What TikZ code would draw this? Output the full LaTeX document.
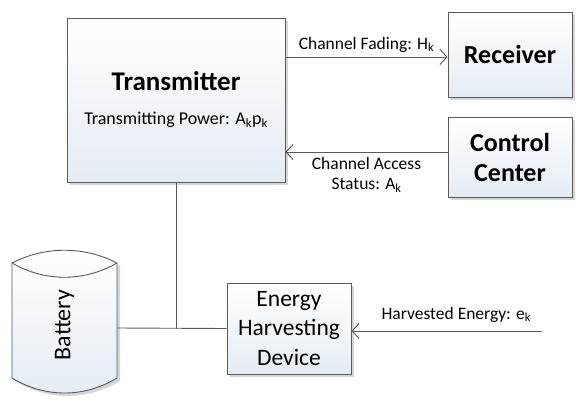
\documentclass[tikz,border=0pt]{standalone}
\usepackage{fontspec}
\setmainfont{Carlito}
\usetikzlibrary{arrows.meta,positioning,calc,shadows}

\definecolor{edgegray}{HTML}{5A5A5A}
\definecolor{boxblue}{HTML}{E4ECF3}
\definecolor{shadowgray}{HTML}{D6D6D6}

\tikzset{
    block/.style={draw=edgegray, line width=0.9pt, top color=white, bottom color=boxblue,
        align=center, inner sep=0pt,
        drop shadow={shadow xshift=3pt, shadow yshift=-3pt, fill=shadowgray, opacity=1}},
    wire/.style={draw=edgegray, line width=0.9pt},
    arr/.style={wire, -{Straight Barb[length=7pt, width=15pt, line width=0.9pt]}},
    lbl/.style={font=\fontsize{17.5}{20}\selectfont, align=center}
}

\begin{document}
\begin{tikzpicture}[x=1pt, y=-1pt]
    \useasboundingbox (0,0) rectangle (580,404);

    % boxes
    \node[block, minimum width=218pt, minimum height=164pt, font=\fontsize{18}{34}\selectfont] (tx) at (176,100)
        {{\fontsize{27}{27}\selectfont\bfseries Transmitter}\\Transmitting Power: A\textsubscript{k}p\textsubscript{k}};
    \node[block, minimum width=124pt, minimum height=85pt, font=\fontsize{26}{30}\selectfont\bfseries] (rx) at (510,54.5) {Receiver};
    \node[block, minimum width=124pt, minimum height=80pt, font=\fontsize{26}{30}\selectfont\bfseries] (cc) at (510,157) {Control\\Center};
    \node[block, minimum width=124pt, minimum height=91pt, font=\fontsize{23.5}{29.5}\selectfont] (eh) at (289,328.5) {Energy\\Harvesting\\Device};

    % battery
    \fill[shadowgray] (15,266) .. controls (48,249) and (87,249) .. (120,266) -- (120,381)
        .. controls (87,401) and (48,401) .. (15,381) -- cycle;
    \path[wire, top color=white, bottom color=boxblue] (12,263) .. controls (45,246) and (84,246) .. (117,263) -- (117,378)
        .. controls (84,398) and (45,398) .. (12,378) -- cycle;
    \draw[wire] (12,263) .. controls (45,282) and (84,282) .. (117,263);
    \node[rotate=90, font=\fontsize{24}{26}\selectfont] (bat) at (64.5,325) {Battery};
    \coordinate (batR) at (117,328);

    % connectors
    \coordinate (src) at (542,331);
    \draw[wire] (batR) -- (eh.west);
    \draw[wire] (tx.south) -- (tx.south |- eh.west);
    \draw[arr] ([yshift=-2.5pt]rx.west -| tx.east) -- node[lbl, above=1pt] {Channel Fading: H\textsubscript{k}} ([yshift=-2.5pt]rx.west);
    \draw[arr] ([yshift=5pt]cc.west) -- node[lbl, below=2pt] {Channel Access\\Status: A\textsubscript{k}} ([yshift=5pt]cc.west -| tx.east);
    \draw[arr] (src) -- node[lbl, above=5pt, pos=0.45] {Harvested Energy: e\textsubscript{k}} (eh.east |- src);
\end{tikzpicture}
\end{document}
